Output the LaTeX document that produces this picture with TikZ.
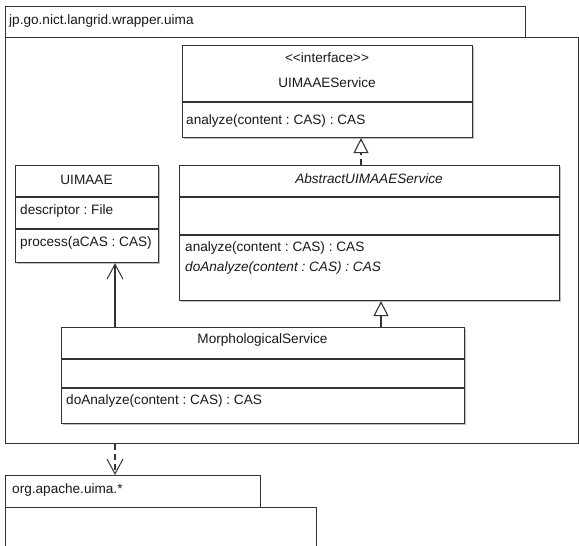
\documentclass[tikz,border=0pt]{standalone}
\usepackage{fontspec}
\setmainfont{Liberation Sans}
\usetikzlibrary{arrows.meta,shadows}
\frenchspacing
\begin{document}
\begin{tikzpicture}[x=1pt,y=-1pt,
  line/.style={draw=black!80, line width=1.1pt},
  umlbox/.style={line, fill=white, inner sep=0, anchor=north west, rectangle,
    drop shadow={shadow xshift=1.5pt, shadow yshift=-1.5pt, opacity=0.25, fill=black}},
  pkgbox/.style={line, fill=white, inner sep=0, anchor=north west, rectangle},
  txt/.style={inner sep=0, font=\fontsize{13.6}{16}\selectfont, text=black!90},
  ltxt/.style={txt, anchor=west},
  gen/.style={line, -{Triangle[length=15pt, width=15pt, fill=white]}},
  assoc/.style={line, -{Straight Barb[length=15pt, width=16pt, line width=1pt]}},
  dashpat/.style={dash pattern=on 6pt off 4pt}
]
\useasboundingbox (0,0) rectangle (579,546);
\clip (0,0) rectangle (579,546);

% outer package
\node[pkgbox, minimum width=520pt, minimum height=31pt] (pkgtab) at (5,6) {};
\node[pkgbox, minimum width=573pt, minimum height=406pt] (pkgbody) at (5,37) {};
\node[ltxt] (pkgname) at (9,21) {jp.go.nict.langrid.wrapper.uima};

% interface
\node[umlbox, minimum width=290pt, minimum height=92pt] (iface) at (182,45) {};
\draw[line] (iface.west |- 0,102) -- (iface.east |- 0,102);
\node[txt] (ifst) at (327,58) {\textless\kern0pt\textless\kern0pt interface\textgreater\kern0pt\textgreater};
\node[txt] (ifname) at (327,83) {UIMAAEService};
\node[ltxt] (ifop) at (186,121) {analyze(content : CAS) : CAS};

% abstract class
\node[umlbox, minimum width=380pt, minimum height=135pt] (abs) at (179,165) {};
\draw[line] (abs.west |- 0,197) -- (abs.east |- 0,197);
\draw[line] (abs.west |- 0,235) -- (abs.east |- 0,235);
\node[txt] (absname) at (369,179) {\itshape AbstractUIMAAEService};
\node[ltxt] (absop1) at (185,248) {analyze(content : CAS) : CAS};
\node[ltxt] (absop2) at (185,268) {\itshape doAnalyze(content : CAS) : CAS};

% UIMAAE
\node[umlbox, minimum width=143pt, minimum height=97pt] (uimaae) at (15,165) {};
\draw[line] (uimaae.west |- 0,197) -- (uimaae.east |- 0,197);
\draw[line] (uimaae.west |- 0,229) -- (uimaae.east |- 0,229);
\node[txt] (uname) at (86.5,180) {UIMAAE};
\node[ltxt] (uattr) at (20,211) {descriptor : File};
\node[ltxt] (uop) at (20,243) {process(aCAS : CAS)};

% MorphologicalService
\node[umlbox, minimum width=403pt, minimum height=96pt] (morph) at (61,327) {};
\draw[line] (morph.west |- 0,359) -- (morph.east |- 0,359);
\draw[line] (morph.west |- 0,388) -- (morph.east |- 0,388);
\node[txt] (mname) at (262.5,340) {MorphologicalService};
\node[ltxt] (mop) at (66,401) {doAnalyze(content : CAS) : CAS};

% bottom package
\node[pkgbox, minimum width=255pt, minimum height=32pt] (orgtab) at (5,475) {};
\node[pkgbox, minimum width=311pt, minimum height=60pt] (orgbody) at (5,507) {};
\node[ltxt] (orgname) at (12,490) {org.apache.uima.*};

% connectors
\coordinate (rx) at (361,0);
\coordinate (gx) at (381,0);
\coordinate (ax) at (115,0);
\draw[gen, dashpat] (abs.north -| rx) -- (iface.south -| rx);
\draw[gen] (morph.north -| gx) -- (abs.south -| gx);
\draw[assoc] (morph.north -| ax) -- (uimaae.south -| ax);
\draw[assoc, dashpat] (pkgbody.south -| ax) -- (orgtab.north -| ax);
\end{tikzpicture}
\end{document}
